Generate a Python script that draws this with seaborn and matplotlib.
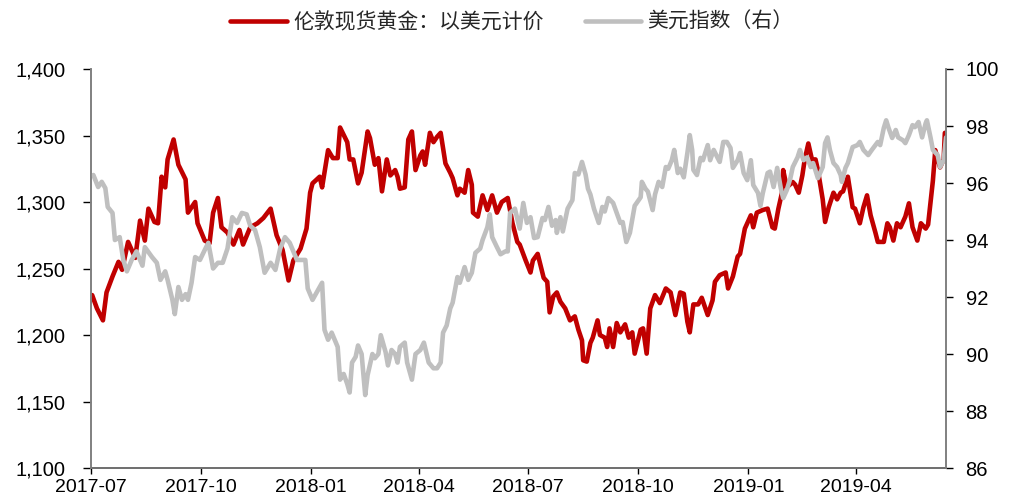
import pandas as pd
import matplotlib.pyplot as plt
import matplotlib.dates as mdates
import seaborn as sns

# days counted from 2017-07-01
gold_days = [1, 5, 10, 13, 18, 23, 26, 31, 37, 41, 45, 48, 53, 56, 59, 62, 64, 69, 73, 79,
             81, 87, 89, 95, 99, 102, 106, 109, 114, 119, 124, 127, 133, 139, 144, 150, 155, 160, 165, 169,
             175, 180, 183, 185, 191, 193, 198, 202, 206, 208, 214, 216, 219, 223, 226, 231, 233, 237, 240, 243,
             247, 250, 254, 256, 258, 262, 265, 268, 271, 275, 277, 279, 283, 286, 289, 292, 296, 300, 302, 306,
             308, 312, 315, 318, 319, 323, 327, 331, 335, 339, 343, 348, 352, 356, 358, 363, 367, 369, 373, 378,
             381, 383, 386, 389, 392, 396, 400, 404, 407, 410, 411, 414, 417, 419, 423, 425, 429, 431, 433, 436,
             439, 442, 446, 449, 452, 454, 459, 461, 464, 467, 471, 475, 480, 484, 488, 492, 495, 498, 500, 503,
             507, 510, 515, 519, 521, 525, 530, 532, 536, 540, 542, 546, 551, 553, 556, 561, 565, 569, 571, 574,
             577, 578, 581, 586, 588, 591, 594, 596, 599, 602, 605, 607, 611, 613, 616, 620, 623, 626, 628, 632,
             636, 638, 642, 645, 648, 651, 655, 657, 662, 665, 667, 670, 673, 676, 680, 683, 686, 690, 693, 697,
             699, 703, 705, 709, 712, 713]
gold_price = [1230, 1220, 1211, 1232, 1244, 1255, 1249, 1270, 1258, 1286, 1271, 1295, 1285, 1284, 1319, 1311, 1332, 1347, 1328, 1317,
              1292, 1300, 1284, 1271, 1269, 1292, 1303, 1281, 1277, 1268, 1279, 1268, 1281, 1284, 1288, 1295, 1275, 1264, 1241, 1256,
              1265, 1280, 1307, 1314, 1319, 1311, 1339, 1333, 1333, 1356, 1345, 1332, 1332, 1314, 1322, 1353, 1348, 1328, 1333, 1308,
              1332, 1320, 1324, 1319, 1310, 1311, 1347, 1353, 1324, 1335, 1338, 1328, 1352, 1345, 1349, 1352, 1329, 1322, 1318, 1305,
              1310, 1307, 1324, 1313, 1292, 1289, 1305, 1294, 1305, 1292, 1300, 1303, 1284, 1270, 1268, 1256, 1247, 1256, 1261, 1243,
              1240, 1217, 1229, 1232, 1225, 1220, 1211, 1214, 1204, 1196, 1181, 1180, 1194, 1198, 1211, 1200, 1198, 1191, 1205, 1191,
              1209, 1202, 1208, 1198, 1202, 1186, 1204, 1205, 1186, 1220, 1230, 1224, 1235, 1232, 1215, 1232, 1231, 1210, 1202, 1223,
              1223, 1228, 1215, 1226, 1240, 1245, 1247, 1235, 1244, 1259, 1261, 1280, 1290, 1281, 1292, 1294, 1295, 1281, 1280, 1295,
              1307, 1324, 1311, 1315, 1313, 1307, 1320, 1332, 1344, 1332, 1332, 1324, 1302, 1285, 1296, 1307, 1302, 1307, 1308, 1319,
              1296, 1295, 1284, 1296, 1305, 1290, 1277, 1270, 1270, 1284, 1281, 1271, 1284, 1281, 1289, 1299, 1281, 1271, 1284, 1280,
              1283, 1316, 1339, 1326, 1332, 1352]

usd_days = [2, 6, 9, 12, 14, 18, 20, 24, 27, 30, 34, 38, 43, 45, 51, 55, 58, 62, 64, 68,
            70, 73, 76, 79, 81, 84, 87, 91, 95, 98, 102, 106, 110, 114, 118, 122, 126, 130, 133, 137,
            141, 145, 150, 154, 158, 162, 166, 172, 179, 181, 185, 189, 193, 195, 198, 201, 206, 208, 211, 214,
            216, 218, 221, 223, 226, 229, 231, 235, 237, 240, 242, 246, 248, 251, 254, 256, 258, 262, 264, 268,
            271, 275, 278, 282, 286, 289, 292, 294, 297, 300, 302, 306, 308, 312, 315, 318, 321, 325, 327, 331,
            333, 335, 339, 342, 346, 348, 350, 354, 358, 361, 364, 367, 370, 373, 377, 379, 382, 385, 388, 389,
            392, 394, 398, 402, 404, 407, 410, 413, 415, 417, 420, 424, 427, 429, 432, 436, 439, 442, 444, 447,
            450, 454, 459, 460, 463, 465, 469, 471, 474, 477, 480, 482, 485, 487, 490, 492, 495, 498, 500, 502,
            503, 506, 509, 511, 515, 517, 520, 523, 525, 528, 531, 534, 536, 540, 542, 545, 548, 551, 553, 557,
            559, 561, 565, 567, 570, 573, 576, 578, 581, 584, 586, 590, 592, 595, 598, 601, 603, 607, 611, 613,
            615, 617, 620, 623, 626, 627, 630, 632, 636, 640, 642, 645, 649, 652, 657, 659, 662, 664, 666, 669,
            672, 674, 678, 680, 683, 686, 688, 691, 694, 697, 698, 701, 703, 707, 709, 712, 714]
usd_index = [96.28, 95.86, 96.04, 95.82, 95.16, 94.95, 94.0, 94.1, 93.3, 92.9, 93.3, 93.6, 93.1, 93.75, 93.4, 93.2, 92.6, 92.9, 92.6, 91.9,
             91.4, 92.35, 91.9, 92.1, 91.9, 92.5, 93.4, 93.3, 93.65, 93.9, 93.0, 93.2, 93.2, 93.7, 94.8, 94.6, 94.95, 94.9, 94.5, 94.35,
             93.75, 92.85, 93.2, 92.95, 93.7, 94.1, 93.9, 93.3, 93.3, 92.3, 91.9, 92.2, 92.5, 90.85, 90.5, 90.75, 90.25, 89.1, 89.3, 88.95,
             88.65, 89.7, 89.9, 90.3, 90.0, 88.56, 89.26, 90.0, 89.85, 90.0, 90.66, 90.07, 89.6, 90.14, 90.0, 89.7, 90.25, 90.4, 89.7, 89.1,
             90.0, 90.14, 90.4, 89.7, 89.5, 89.5, 89.7, 90.75, 91.0, 91.6, 91.8, 92.7, 92.5, 93.05, 92.6, 92.85, 93.55, 93.7, 94.0, 94.45,
             94.9, 94.1, 93.75, 93.5, 93.6, 93.6, 94.95, 95.1, 94.4, 95.3, 94.6, 94.8, 94.07, 94.1, 94.77, 94.7, 95.16, 94.5, 94.7, 94.25,
             94.8, 94.3, 95.1, 95.4, 96.35, 96.3, 96.74, 96.3, 95.8, 95.6, 95.1, 94.6, 95.16, 95.0, 95.47, 95.3, 94.95, 94.6, 94.63, 93.93,
             94.25, 95.2, 95.5, 96.04, 95.8, 95.7, 95.05, 95.6, 96.04, 95.86, 96.56, 96.5, 96.8, 97.16, 96.35, 96.5, 96.2, 97.05, 97.68, 97.16,
             96.46, 96.28, 96.88, 96.8, 97.33, 96.8, 97.16, 96.9, 96.74, 97.44, 97.44, 97.23, 96.53, 96.8, 97.05, 96.35, 96.1, 96.8, 95.93, 95.65,
             95.2, 95.65, 96.35, 96.4, 95.86, 96.53, 95.82, 95.47, 95.75, 96.17, 96.56, 96.9, 97.16, 96.8, 96.9, 96.56, 96.7, 96.17, 96.56, 97.4,
             97.6, 97.16, 96.7, 96.56, 96.28, 96.04, 96.53, 96.7, 97.26, 97.33, 97.44, 97.16, 96.98, 97.16, 97.44, 97.33, 97.93, 98.2, 97.93, 97.58,
             97.86, 97.6, 97.5, 97.4, 97.68, 98.03, 97.96, 98.14, 97.6, 98.1, 98.2, 97.6, 97.16, 96.98, 96.56, 96.8, 97.6]

start = pd.Timestamp('2017-07-01')
gold = pd.DataFrame({'date': start + pd.to_timedelta(gold_days, unit='D'), 'value': gold_price})
usd = pd.DataFrame({'date': start + pd.to_timedelta(usd_days, unit='D'), 'value': usd_index})

sns.set_style('white')
plt.rcParams['font.family'] = ['Liberation Sans', 'Noto Sans CJK SC', 'DejaVu Sans']

red = '#C00000'
grey = '#BFBFBF'

fig = plt.figure(figsize=(10.14, 5.04), dpi=100)
ax = fig.add_axes([0.0897, 0.0714, 0.8433, 0.7917])
ax2 = ax.twinx()

sns.lineplot(data=gold, x='date', y='value', ax=ax, color=red, linewidth=3.3, label='伦敦现货黄金：以美元计价', legend=False)
sns.lineplot(data=usd, x='date', y='value', ax=ax2, color=grey, linewidth=3.3, label='美元指数（右）', legend=False)

ax.set_xlim(start, pd.Timestamp('2019-06-15'))
ax.set_ylim(1100, 1400)
ax2.set_ylim(86, 100)
ax.set_yticks(range(1100, 1401, 50))
ax.set_yticklabels([f'{v:,}' for v in range(1100, 1401, 50)])
ax2.set_yticks(range(86, 101, 2))

ax.xaxis.set_major_locator(mdates.MonthLocator(bymonth=[1, 4, 7, 10]))
ax.xaxis.set_major_formatter(mdates.DateFormatter('%Y-%m'))
ax.set_xlabel('')
ax.set_ylabel('')
ax2.set_ylabel('')

for a in (ax, ax2):
    a.spines['top'].set_visible(False)
    for s in ('left', 'right', 'bottom'):
        a.spines[s].set_color('#808080')
        a.spines[s].set_linewidth(1.2)
    a.tick_params(labelsize=14.5, colors='#000000', length=6, width=1.0, direction='out')
ax.spines['bottom'].set_color('#000000')
ax.tick_params(axis='y', left=True, right=False, pad=12)
ax.tick_params(axis='x', bottom=True, length=4, pad=4, labelsize=14)
ax2.tick_params(axis='y', right=True, left=False, length=5, pad=9)
for a in (ax, ax2):
    for t in a.get_yticklines() + a.get_xticklines():
        t.set_color('#606060')

h1, l1 = ax.get_legend_handles_labels()
h2, l2 = ax2.get_legend_handles_labels()
fig.legend(h1 + h2, l1 + l2, loc='center', bbox_to_anchor=(0.505, 1 - 22 / 504), ncol=2, frameon=False,
           prop={'family': ['Noto Sans CJK SC', 'DejaVu Sans'], 'size': 15}, handlelength=2.7, columnspacing=2.0,
           handletextpad=0.3)

fig.savefig('out.png', dpi=100)
